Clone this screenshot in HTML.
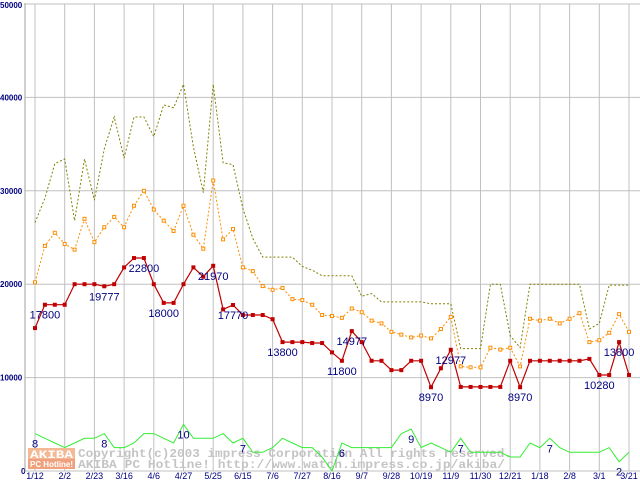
<!DOCTYPE html>
<html><head><meta charset="utf-8"><style>
html,body{margin:0;padding:0;background:#fff;width:640px;height:480px;overflow:hidden}
svg{display:block}
</style></head><body>
<svg id="chart" width="640" height="480" viewBox="0 0 640 480" xmlns="http://www.w3.org/2000/svg" font-family="Liberation Sans, sans-serif">
<g id="grid"></g>
<g id="watermark">
  <rect x="28" y="448" width="47" height="11" fill="#f4b894"/>
  <rect x="28" y="459" width="47" height="10" fill="#f0a07c"/>
  <text x="30" y="458" font-family="Liberation Mono, monospace" font-weight="bold" font-size="11" fill="#fff" textLength="43" lengthAdjust="spacingAndGlyphs">AKIBA</text>
  <text x="30" y="467" font-family="Liberation Sans, sans-serif" font-weight="bold" font-size="8" fill="#fff" textLength="43" lengthAdjust="spacingAndGlyphs">PC Hotline!</text>
  <text x="78" y="457" font-family="Liberation Mono, monospace" font-weight="bold" font-size="12" fill="#c4c4c4" textLength="434" lengthAdjust="spacingAndGlyphs">Copyright(c)2003 impress Corporation All rights reserved.</text>
  <text x="78" y="468" font-family="Liberation Mono, monospace" font-weight="bold" font-size="12" fill="#c4c4c4" textLength="427" lengthAdjust="spacingAndGlyphs">AKIBA PC Hotline!  http://www.watch.impress.co.jp/akiba/</text>
</g>
<g id="series"></g>
<g id="labels"></g>
</svg>
<script>
const xLabels = ["1/12","2/2","2/23","3/16","4/6","4/27","5/25","6/15","7/6","7/27","8/16","9/7","9/28","10/19","11/9","11/30","12/21","1/18","2/8","3/1","3/21"];
const yTicks = [0,10000,20000,30000,40000,50000];
const maxPrice = [26600,29200,32900,33400,26800,33400,29000,34500,37900,33500,37900,37900,35800,39200,38900,41400,34700,29800,41400,33000,32800,28100,24900,22900,22900,22900,22900,21900,21500,20900,20900,20900,20900,18700,19000,18100,18100,18100,18100,18100,17900,17900,17900,13100,13100,13100,20000,20000,14500,13200,20000,20000,20000,20000,20000,20000,15200,15800,19900,19900,19900];
const avgPrice = [20200,24100,25500,24300,23700,27000,24500,26100,27200,26100,28400,30000,28000,26800,25700,28400,25300,23800,31100,24800,25900,21800,21400,19800,19400,19600,18400,18300,17800,16700,16600,16400,17400,17000,16100,15800,14900,14600,14300,14500,14200,15200,16500,11200,11100,11100,13200,13000,13200,11200,16300,16100,16300,15800,16300,16900,13800,14000,14800,16800,14900];
const minPrice = [15300,17800,17800,17800,20000,20000,20000,19777,20000,21800,22800,22800,20000,18000,18000,20000,21800,20800,21970,17300,17770,16700,16700,16700,16250,13800,13800,13800,13700,13700,12700,11800,14977,13800,11800,11800,10800,10800,11800,11800,8970,11000,12977,9000,9000,9000,9000,9000,11800,8970,11800,11800,11800,11800,11800,11800,12000,10280,10280,13800,10280];
const shopCount = [8,7,6,5,6,7,7,8,5,5,6,8,8,7,6,10,7,7,7,8,6,7,4,4,5,7,6,5,5,3,0,6,5,5,5,5,5,8,9,5,6,5,4,7,4,4,4,4,3,3,6,5,7,5,4,4,4,4,5,2,4];
const minLabelIdx = [1,7,11,13,18,20,25,31,32,40,42,49,57,59];
const countLabelIdx = [0,7,15,21,31,38,43,52,59];
const countScale = 500;

const NS="http://www.w3.org/2000/svg";
const X0=35, X1=629, Y0=471, Y50=4;
const n=minPrice.length;
const xs=i=>X0+(X1-X0)*i/(n-1);
const ys=v=>Y0-(Y0-Y50)*v/50000;
function mk(tag,attrs,parent){const e=document.createElementNS(NS,tag);for(const k in attrs)e.setAttribute(k,attrs[k]);parent.appendChild(e);return e;}
const grid=document.getElementById('grid');
const ser=document.getElementById('series');
const lab=document.getElementById('labels');

yTicks.forEach(t=>{
  const l=mk('line',{x1:25,x2:640,y1:ys(t),y2:ys(t),stroke:'#c0c0c0','stroke-width':1},grid);
  
  
  const tx=mk('text',{x:t===0?21:0,y:ys(t)+(t===50000?4:3),'font-size':8,'font-weight':'bold',fill:'#000080'},grid);
  tx.textContent=String(t);
  
  
});
xLabels.forEach((lb,k)=>{
  const x=xs(k*3);
  const l=mk('line',{x1:x,x2:x,y1:4,y2:471,stroke:'#c0c0c0','stroke-width':1},grid);
  
  
  const tx=mk('text',{x:x,y:479,'font-size':9,'text-anchor':'middle',fill:'#000080'},grid);
  tx.textContent=lb;
  
  
});
const ax=mk('line',{x1:25,x2:25,y1:3,y2:472,stroke:'#a0a0a0','stroke-width':1},grid);



function pts(arr,scale){return arr.map((v,i)=>xs(i).toFixed(1)+','+ys(v*scale).toFixed(1)).join(' ');}
const g1=mk('polyline',{points:pts(shopCount,countScale),fill:'none',stroke:'#33ee33','stroke-width':1},ser);


const o1=mk('polyline',{points:pts(maxPrice,1),fill:'none',stroke:'#808000','stroke-width':1,'stroke-dasharray':'2,2'},ser);


const a1=mk('polyline',{points:pts(avgPrice,1),fill:'none',stroke:'#ff8c00','stroke-width':1,'stroke-dasharray':'2,2'},ser);


avgPrice.forEach((v,i)=>{
  const r=mk('rect',{x:xs(i)-1.5,y:ys(v)-1.5,width:3,height:3,fill:'#fff',stroke:'#ff8c00','stroke-width':1},ser);
  
  
});
const m1=mk('polyline',{points:pts(minPrice,1),fill:'none',stroke:'#c00000','stroke-width':1.2},ser);


minPrice.forEach((v,i)=>{
  const r=mk('rect',{x:xs(i)-2,y:ys(v)-2,width:4,height:4,fill:'#c00000'},ser);
  
  
});
minLabelIdx.forEach(i=>{
  const t=mk('text',{x:xs(i),y:ys(minPrice[i])+14,'font-size':11,'text-anchor':'middle',fill:'#000080'},lab);
  t.textContent=String(minPrice[i]);
  
  
});
countLabelIdx.forEach(i=>{
  const t=mk('text',{x:xs(i),y:Math.min(ys(shopCount[i]*countScale)+14,476),'font-size':11,'text-anchor':'middle',fill:'#000080'},lab);
  t.textContent=String(shopCount[i]);
  
  
});
</script>
</body></html>
